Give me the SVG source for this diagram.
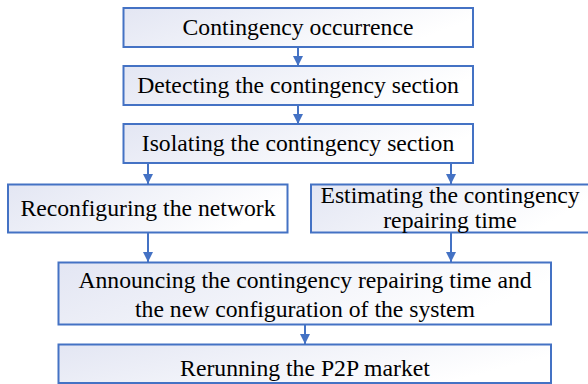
<svg xmlns="http://www.w3.org/2000/svg" width="588" height="384" viewBox="0 0 588 384">
<defs>
<linearGradient id="g" x1="0" y1="0" x2="1" y2="0.3">
<stop offset="0" stop-color="#E3E6F3"/>
<stop offset="1" stop-color="#FFFFFF"/>
</linearGradient>
<marker id="ah" viewBox="0 0 10 10" refX="10" refY="5" markerWidth="10" markerHeight="10" markerUnits="userSpaceOnUse" orient="auto">
<path d="M0,0 L10,5 L0,10 Z" fill="#4472C4"/>
</marker>
<style>
.box{fill:url(#g);stroke:#4472C4;stroke-width:2}
.t{font-family:"Liberation Serif","Times New Roman",serif;font-size:23.7px;fill:#000;text-anchor:middle}
.c{stroke:#4472C4;stroke-width:2;fill:none;marker-end:url(#ah)}
</style>
</defs>
<g id="connectors">
<line class="c" x1="298" y1="47" x2="298" y2="66"/>
<line class="c" x1="298" y1="105" x2="298" y2="124"/>
<line class="c" x1="148" y1="163" x2="148" y2="184"/>
<line class="c" x1="451" y1="163" x2="451" y2="184"/>
<line class="c" x1="148" y1="233" x2="148" y2="262"/>
<line class="c" x1="451" y1="233" x2="451" y2="262"/>
<line class="c" x1="305" y1="324" x2="305" y2="344"/>
</g>
<g id="n1"><rect class="box" x="123.5" y="8" width="349.5" height="39"/><text class="t" x="298" y="35">Contingency occurrence</text></g>
<g id="n2"><rect class="box" x="123.5" y="66" width="349.5" height="39"/><text class="t" x="298" y="93">Detecting the contingency section</text></g>
<g id="n3"><rect class="box" x="123.5" y="124" width="349.5" height="39"/><text class="t" x="298" y="151">Isolating the contingency section</text></g>
<g id="n4"><rect class="box" x="8" y="184.5" width="279.5" height="48"/><text class="t" x="148" y="216">Reconfiguring the network</text></g>
<g id="n5"><rect class="box" x="311" y="184.5" width="280" height="48"/><text class="t" x="450" y="203">Estimating the contingency</text><text class="t" x="450" y="228">repairing time</text></g>
<g id="n6"><rect class="box" x="58.5" y="262.5" width="492.5" height="62"/><text class="t" x="305" y="288">Announcing the contingency repairing time and</text><text class="t" x="305" y="317">the new configuration of the system</text></g>
<g id="n7"><rect class="box" x="58.5" y="344.5" width="492.5" height="38.5"/><text class="t" x="305" y="376">Rerunning the P2P market</text></g>
</svg>
